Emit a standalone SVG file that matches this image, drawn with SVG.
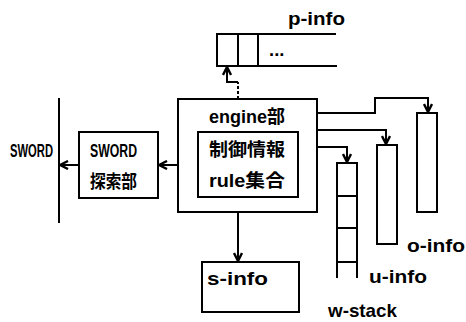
<svg xmlns="http://www.w3.org/2000/svg" width="466" height="322" viewBox="0 0 466 322">
<defs>
<style>
.ln{stroke:#000;stroke-width:2;fill:none}
.bx{stroke:#000;stroke-width:2;fill:#fff}
.t{font-family:"Liberation Sans","Noto Sans CJK JP",sans-serif;font-weight:bold;font-size:18.5px;fill:#000}
.j{font-family:"Liberation Sans","Noto Sans CJK JP",sans-serif;font-weight:bold;font-size:18px;fill:#000}
</style>
<marker id="ah" markerWidth="10" markerHeight="10" refX="9" refY="5" orient="auto" markerUnits="userSpaceOnUse">
<path d="M1,1 L9,5 L1,9" fill="none" stroke="#000" stroke-width="2.4"/>
</marker>
</defs>
<rect width="466" height="322" fill="#fff"/>
<g id="connectors">
<line class="ln" x1="238" y1="99" x2="238" y2="82" stroke-dasharray="3,2"/>
<polyline class="ln" points="238,82 227,82 227,67" marker-end="url(#ah)"/>
<line class="ln" x1="178" y1="165" x2="159" y2="165" marker-end="url(#ah)"/>
<line class="ln" x1="79" y1="165" x2="60" y2="165" marker-end="url(#ah)"/>
<line class="ln" x1="238" y1="212" x2="238" y2="261" marker-end="url(#ah)"/>
<polyline class="ln" points="317,113 375,113 375,98 428,98 428,112" marker-end="url(#ah)"/>
<polyline class="ln" points="317,130 386,130 386,144" marker-end="url(#ah)"/>
<polyline class="ln" points="298,147 347,147 347,162" marker-end="url(#ah)"/>
</g>
<g id="p-info">
<path class="ln" d="M336,34 L217,34 L217,66 L337,66 M238,34 L238,66 M258,34 L258,66"/>
<text class="t" x="269" y="56" font-size="14px">...</text>
<text class="t" x="288" y="25" textLength="57" lengthAdjust="spacingAndGlyphs">p-info</text>
</g>
<g id="sword-line">
<line class="ln" x1="59" y1="98" x2="59" y2="223"/>
<text class="t" x="10" y="157" textLength="43" lengthAdjust="spacingAndGlyphs">SWORD</text>
</g>
<g id="sword-search">
<rect class="bx" x="79" y="132" width="79" height="66"/>
<text class="t" x="90" y="157" textLength="47" lengthAdjust="spacingAndGlyphs">SWORD</text>
<text class="j" x="90" y="188" textLength="47" lengthAdjust="spacingAndGlyphs">探索部</text>
</g>
<g id="engine">
<rect class="bx" x="178" y="99" width="139" height="113"/>
<text class="t" x="209" y="123" textLength="76" lengthAdjust="spacingAndGlyphs">engine部</text>
<rect class="bx" x="198" y="132" width="100" height="65"/>
<text class="j" x="209" y="156" textLength="76" lengthAdjust="spacingAndGlyphs">制御情報</text>
<text class="t" x="209" y="187" textLength="76" lengthAdjust="spacingAndGlyphs">rule集合</text>
</g>
<g id="s-info">
<rect class="bx" x="202" y="262" width="97" height="50"/>
<text class="t" x="207" y="285" textLength="61" lengthAdjust="spacingAndGlyphs">s-info</text>
</g>
<g id="w-stack">
<path class="ln" d="M337,278 L337,163 L357,163 L357,278 M337,196 L357,196 M337,228 L357,228 M337,262 L357,262"/>
<text class="t" x="328" y="317" textLength="69" lengthAdjust="spacingAndGlyphs">w-stack</text>
</g>
<g id="u-info">
<rect class="bx" x="377" y="145" width="20" height="99"/>
<text class="t" x="369" y="283" textLength="58" lengthAdjust="spacingAndGlyphs">u-info</text>
</g>
<g id="o-info">
<rect class="bx" x="417" y="113" width="20" height="99"/>
<text class="t" x="407" y="252" textLength="58" lengthAdjust="spacingAndGlyphs">o-info</text>
</g>
</svg>
